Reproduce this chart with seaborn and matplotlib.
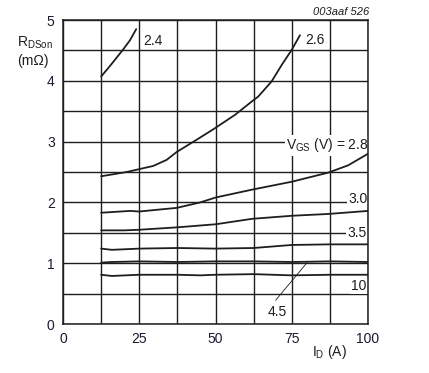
import matplotlib
matplotlib.use("Agg")
import matplotlib.pyplot as plt
import seaborn as sns
import pandas as pd
import numpy as np

# ---- data ----
vgs_labels = ["2.4", "2.6", "2.8", "3.0", "3.5", "4.5", "10"]

id_24 = [12.5, 15.5, 19.8, 22.0, 24.0]
r_24 = [4.07, 4.25, 4.52, 4.67, 4.85]

id_26 = [12.5, 20.9, 29.6, 34.0, 37.3, 43.8, 49.5, 56.4, 61.9, 64.0, 68.4, 71.7, 75.0, 77.7]
r_26 = [2.43, 2.50, 2.60, 2.70, 2.83, 3.03, 3.21, 3.44, 3.66, 3.74, 3.99, 4.26, 4.51, 4.75]

id_28 = [12.5, 22.0, 25.0, 37.3, 45.0, 50.0, 62.0, 75.0, 87.0, 93.5, 100.0]
r_28 = [1.83, 1.86, 1.85, 1.91, 2.00, 2.08, 2.21, 2.34, 2.49, 2.61, 2.80]

id_30 = [12.5, 20.0, 25.0, 37.5, 50.0, 62.0, 75.0, 87.0, 100.0]
r_30 = [1.54, 1.54, 1.55, 1.59, 1.64, 1.73, 1.78, 1.81, 1.86]

id_35 = [12.5, 16.0, 25.0, 37.5, 50.0, 62.5, 75.0, 87.5, 100.0]
r_35 = [1.24, 1.22, 1.24, 1.25, 1.24, 1.25, 1.30, 1.31, 1.31]

id_45 = [12.5, 16.0, 25.0, 37.5, 50.0, 62.5, 75.0, 87.5, 100.0]
r_45 = [1.01, 1.02, 1.03, 1.02, 1.03, 1.03, 1.02, 1.03, 1.02]

id_10 = [12.5, 16.0, 25.0, 37.5, 45.0, 50.0, 62.5, 75.0, 87.5, 100.0]
r_10 = [0.81, 0.79, 0.81, 0.81, 0.80, 0.81, 0.82, 0.80, 0.81, 0.81]

x_ticks = [0, 25, 50, 75, 100]
y_ticks = [0, 1, 2, 3, 4, 5]

series = [(id_24, r_24), (id_26, r_26), (id_28, r_28), (id_30, r_30),
          (id_35, r_35), (id_45, r_45), (id_10, r_10)]
frames = []
for lab, (xs, ys) in zip(vgs_labels, series):
    frames.append(pd.DataFrame({"ID": xs, "R": ys, "VGS": lab}))
df = pd.concat(frames, ignore_index=True)

# ---- style ----
sns.set_style("white")
plt.rcParams["font.family"] = ["Liberation Sans", "DejaVu Sans"]
plt.rcParams["mathtext.fontset"] = "custom"
plt.rcParams["mathtext.rm"] = "Liberation Sans"
plt.rcParams["mathtext.it"] = "Liberation Sans:italic"

ink = "#1e1e1e"
fs = 10
fig = plt.figure(figsize=(4.29, 3.73), dpi=100)
ax = fig.add_axes([63 / 429, 1 - 324 / 373, 305 / 429, 304 / 373])

sns.lineplot(data=df, x="ID", y="R", hue="VGS", units="VGS", estimator=None,
             palette=[ink] * len(vgs_labels), legend=False, lw=1.3, ax=ax,
             sort=False, zorder=3)

ax.set_xlim(0, 100)
ax.set_ylim(0, 5)
ax.set_xticks(x_ticks)
ax.set_yticks(y_ticks)
ax.set_xticks(np.arange(12.5, 100, 25), minor=True)
ax.set_yticks(np.arange(0.5, 5, 1), minor=True)
ax.grid(True, which="both", color=ink, lw=1.0, zorder=1)
ax.set_axisbelow(True)
ax.tick_params(which="both", length=0, labelsize=fs, colors="#1a1a30", pad=6)
for s in ax.spines.values():
    s.set_color(ink)
    s.set_linewidth(1.1)
    s.set_visible(True)
ax.set_xlabel("")
ax.set_ylabel("")

box = dict(facecolor="white", edgecolor="none", pad=1.0)
ax.text(26.3, 4.66, "2.4", fontsize=fs, color=ink, va="center", ha="left")
ax.text(79.3, 4.67, "2.6", fontsize=fs, color=ink, va="center", ha="left")
ax.text(100.3, 2.94, r"V$_{\mathrm{GS}}$ (V) = 2.8", fontsize=fs, color=ink,
        va="center", ha="right", bbox=box, zorder=2)
ax.text(99.8, 2.06, "3.0", fontsize=fs, color=ink, va="center", ha="right",
        bbox=box, zorder=2)
ax.text(99.6, 1.49, "3.5", fontsize=fs, color=ink, va="center", ha="right",
        bbox=box, zorder=2)
ax.text(99.6, 0.63, "10", fontsize=fs, color=ink, va="center", ha="right",
        bbox=box, zorder=2)
ax.text(67.0, 0.20, "4.5", fontsize=fs, color=ink, va="center", ha="left",
        bbox=box, zorder=2)
ax.plot([69.7, 80.2], [0.39, 1.02], color=ink, lw=0.6, zorder=3)

fig.text(17 / 429, 1 - 43 / 373, r"R$_{\mathrm{DSon}}$", fontsize=fs, color=ink,
         va="center", ha="left")
fig.text(17 / 429, 1 - 61 / 373, "(mΩ)", fontsize=fs, color=ink,
         va="center", ha="left")
fig.text(312 / 429, 1 - 352 / 373, r"I$_{\mathrm{D}}$ (A)", fontsize=fs, color=ink,
         va="center", ha="left")
fig.text(369 / 429, 1 - 12 / 373, "003aaf 526", fontsize=8, style="italic",
         color=ink, va="center", ha="right")

fig.savefig("out.png", dpi=100)
